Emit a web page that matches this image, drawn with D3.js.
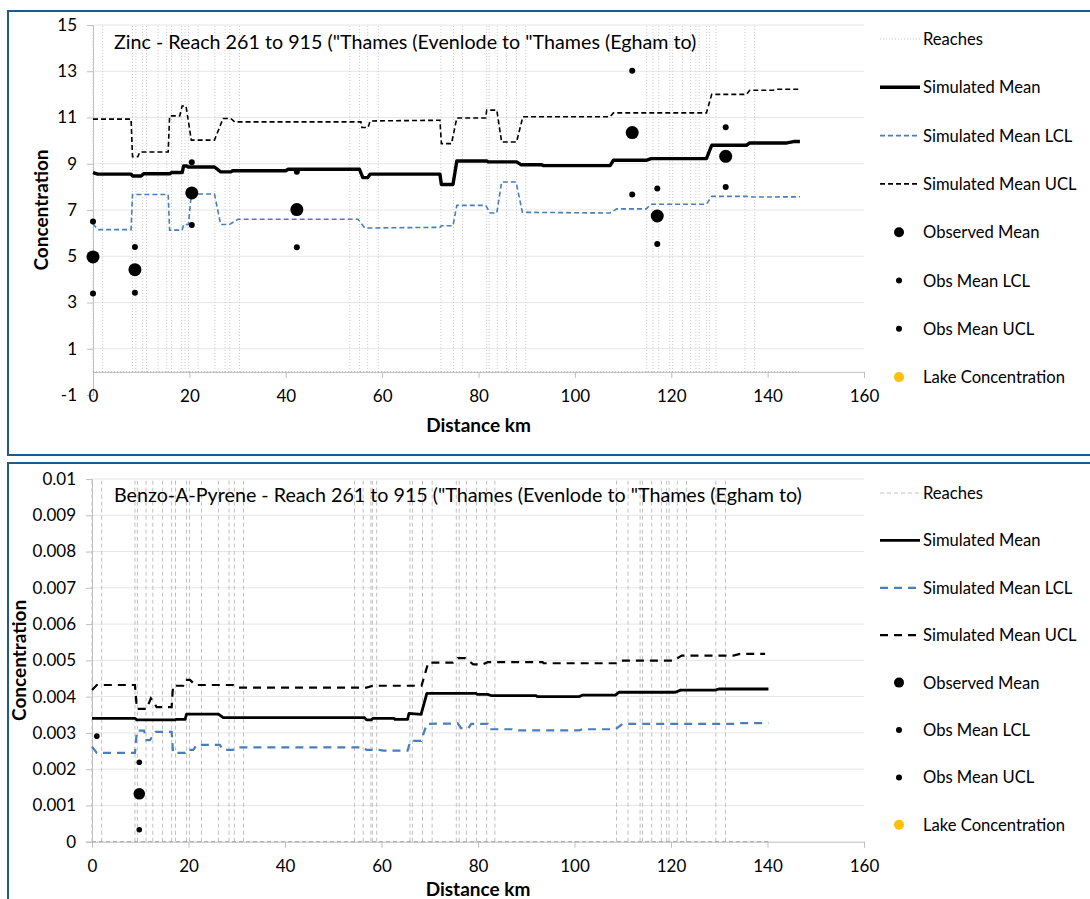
<!DOCTYPE html>
<html>
<head>
<meta charset="utf-8">
<script src="https://cdn.jsdelivr.net/npm/d3@7"></script>
<style>
  body { margin: 0; background: #fff; }
  svg { display: block; font-family: Lato, "Open Sans", sans-serif; }
</style>
</head>
<body>
<svg id="chart" width="1090" height="899"></svg>
<script>
// ---- Zinc (top panel) ----
var zincTitle = 'Zinc - Reach 261 to 915 ("Thames (Evenlode to "Thames (Egham to)';
var zincYTicks = [-1, 1, 3, 5, 7, 9, 11, 13, 15];
var zincReaches = [0, 2, 8.2, 8.9, 10.3, 11.1, 13.5, 15.3, 16.3, 18.4, 19.1, 19.8, 21.8, 25.3, 27.4, 28.4,
    30.4, 53.3, 55.3, 57, 59.2, 72.2, 74.8, 76.7, 81.7, 82.2, 83.9, 85.8, 87.9, 89.8, 114.9, 116.2, 117.4,
    119.7, 120.3, 122.3, 124, 125.1, 125.8, 127.3, 127.9, 129.3, 135.3, 137.3];
var zincEnd = 146.7;
var zincMean = [[0, 8.62], [1, 8.55], [7.9, 8.55], [8.2, 8.47], [10, 8.47], [10.5, 8.57], [16, 8.57], [16.3, 8.62],
    [18.5, 8.62], [18.8, 8.9], [19.5, 8.9], [19.7, 8.86], [25.2, 8.86], [26.5, 8.65], [28.6, 8.65], [29, 8.7],
    [40, 8.7], [40.5, 8.76], [55.3, 8.76], [56, 8.4], [57, 8.4], [57.5, 8.55], [72, 8.55], [72.3, 8.1],
    [74.7, 8.1], [75.5, 9.12], [81.7, 9.12], [82, 9.08], [87.9, 9.08], [88.8, 8.96], [93, 8.96], [93.5, 8.92],
    [107.3, 8.92], [108, 9.15], [114.8, 9.15], [115.8, 9.22], [127.3, 9.22], [128.4, 9.8], [135.6, 9.8],
    [136.3, 9.9], [144, 9.9], [145.4, 9.96], [146.7, 9.96]];
var zincLcl = [[0, 6.41], [1, 6.15], [7.9, 6.15], [8.2, 7.67], [15.6, 7.67], [15.9, 6.13], [18.5, 6.13],
    [18.8, 6.37], [19.8, 6.37], [20.4, 7.69], [25.2, 7.69], [26.5, 6.37], [28.3, 6.37], [30.1, 6.6], [55, 6.6],
    [56.4, 6.22], [72, 6.25], [72.3, 6.32], [74.7, 6.32], [75.5, 7.2], [81.5, 7.2], [82.4, 6.87], [83.8, 6.87],
    [84.8, 8.21], [87.8, 8.21], [89.1, 6.9], [107.3, 6.87], [108.7, 7.05], [114.8, 7.05], [115.8, 7.25],
    [127.3, 7.25], [128.4, 7.59], [135.6, 7.59], [137, 7.56], [146.7, 7.57]];
var zincUcl = [[0, 10.93], [7.9, 10.93], [8.2, 9.3], [9.3, 9.3], [9.7, 9.51], [15.6, 9.51], [15.9, 11.07],
    [18, 11.07], [18.5, 11.5], [19.3, 11.5], [20.4, 10.02], [25.2, 10.02], [27, 10.96], [28.6, 10.96],
    [29.4, 10.81], [55.6, 10.81], [55.8, 10.57], [57.1, 10.57], [57.5, 10.85], [72, 10.88], [72.3, 9.87],
    [74.4, 9.87], [75.5, 10.98], [81.5, 10.98], [81.7, 11.32], [83.8, 11.32], [84.8, 9.94], [87.9, 9.94],
    [89.2, 11.03], [107.3, 11.03], [108, 11.2], [127.3, 11.2], [128.4, 12.0], [135.6, 12.0], [136.3, 12.18],
    [141.1, 12.18], [142, 12.22], [146.7, 12.22]];
var zincObsKm = [0, 8.7, 20.5, 42.3, 111.9, 117.1, 131.3];
var zincObsMean = [4.97, 4.42, 7.74, 7.02, 10.35, 6.74, 9.32];
var zincObsLcl = [3.39, 3.42, 6.35, 5.39, 7.67, 5.53, 8.0];
var zincObsUcl = [6.5, 5.4, 9.06, 8.65, 13.02, 7.93, 10.58];

// ---- Benzo-A-Pyrene (bottom panel) ----
var bapTitle = 'Benzo-A-Pyrene - Reach 261 to 915 ("Thames (Evenlode to "Thames (Egham to)';
var bapYTicks = [0, 0.001, 0.002, 0.003, 0.004, 0.005, 0.006, 0.007, 0.008, 0.009, 0.01];
var bapReaches = [0, 2, 8.9, 9.4, 11.2, 12.6, 14.6, 16.5, 17.3, 19.6, 20.2, 22.7, 26.2, 28.4, 29.5, 31.4,
    54.4, 56.2, 57.8, 58.1, 59, 65.9, 66.4, 68.5, 70.5, 75.5, 76.1, 77.6, 79.7, 81.8, 83.5, 108.7, 111.1,
    113.6, 114.1, 116, 118, 119.1, 119.6, 121.3, 123.2, 129.3, 131.3];
var bapEnd = 140.2;
var bapMean = [[0, 0.0034], [8.9, 0.0034], [9.3, 0.00336], [17.2, 0.00336], [17.4, 0.00337], [19.3, 0.00337],
    [19.6, 0.00352], [26.2, 0.00352], [27.2, 0.00342], [56.5, 0.00342], [56.9, 0.00336], [57.9, 0.00336],
    [58.2, 0.0034], [62.6, 0.0034], [62.8, 0.00337], [65.4, 0.00337], [65.7, 0.00354], [68.2, 0.00351],
    [69.4, 0.00409], [79.6, 0.00409], [79.8, 0.00406], [82, 0.00406], [82.7, 0.00403], [92, 0.00403],
    [92.3, 0.004], [101, 0.004], [101.6, 0.00404], [108.5, 0.00404], [109.2, 0.00412], [120.9, 0.00412],
    [122, 0.00418], [129.2, 0.00418], [129.9, 0.00421], [140.2, 0.00421]];
var bapLcl = [[0, 0.00262], [1, 0.00245], [8.9, 0.00245], [9.3, 0.00306], [10.8, 0.00306], [11.3, 0.0028],
    [12, 0.0028], [13.2, 0.00303], [16.5, 0.00303], [16.8, 0.00245], [19.3, 0.00245], [19.6, 0.00253],
    [21, 0.00253], [21.7, 0.00267], [26.5, 0.00267], [27.2, 0.00253], [29.2, 0.00253], [30, 0.0026],
    [56.2, 0.0026], [56.9, 0.00253], [59.6, 0.00253], [60.3, 0.00251], [65.4, 0.00251], [66, 0.00278],
    [68.2, 0.00278], [69.4, 0.00325], [75.8, 0.00326], [76.5, 0.00313], [78, 0.00313], [78.6, 0.00325],
    [82, 0.00325], [82.4, 0.0031], [87, 0.0031], [87.9, 0.00307], [101, 0.00307], [101.6, 0.0031],
    [108.5, 0.0031], [110, 0.00325], [133, 0.00325], [134.3, 0.00327], [140.2, 0.00327]];
var bapUcl = [[0, 0.00418], [1, 0.00432], [8.9, 0.00432], [9.3, 0.00366], [11.3, 0.00366], [12.2, 0.00395],
    [13.4, 0.00371], [16.5, 0.00371], [16.8, 0.0043], [18.9, 0.0043], [19.3, 0.00446], [20.3, 0.00446],
    [21.4, 0.00432], [29.2, 0.00432], [30, 0.00425], [56.9, 0.00425], [58.2, 0.0043], [68.3, 0.0043],
    [69.7, 0.00494], [74.8, 0.00494], [75.8, 0.00506], [77.3, 0.00506], [79, 0.00489], [81, 0.00489],
    [82, 0.00495], [93.4, 0.00495], [93.6, 0.00492], [109, 0.00492], [109.8, 0.00499], [120.5, 0.00499],
    [122.2, 0.00513], [132.9, 0.00513], [134.3, 0.00518], [139.5, 0.00518]];
var bapObsKm = [1, 9.8];
var bapObsMean = [null, 0.00132];
var bapObsLcl = [null, 0.00033];
var bapObsUcl = [0.00291, 0.00219];

var xTicks = [0, 20, 40, 60, 80, 100, 120, 140, 160];
var legendNames = ['Reaches', 'Simulated Mean', 'Simulated Mean LCL', 'Simulated Mean UCL',
    'Observed Mean', 'Obs Mean LCL', 'Obs Mean UCL', 'Lake Concentration'];

var svg = d3.select("#chart");
var blue = "#4a7ebb";
var grid = "#e6e6e6";
var axisGrey = "#bfbfbf";

function drawPanel(p) {
    var g = svg.append("g");

    // panel frame
    g.append("rect")
        .attr("x", 8).attr("y", p.boxTop)
        .attr("width", 1100).attr("height", p.boxHeight)
        .attr("fill", "#fff")
        .attr("stroke", "#1f5a8a")
        .attr("stroke-width", 2);

    var x = d3.scaleLinear().domain([0, 160]).range([p.left, 864]);
    var y = d3.scaleLinear().domain(p.yDomain).range([p.bottom, p.top]);

    // horizontal gridlines
    g.append("g")
        .selectAll("line")
        .data(p.yTicks.filter(function (d) { return d > 0; }))
        .enter().append("line")
        .attr("x1", x(0)).attr("x2", x(160))
        .attr("y1", function (d) { return y(d); })
        .attr("y2", function (d) { return y(d); })
        .attr("stroke", grid).attr("stroke-width", 1);

    // y axis
    g.append("g")
        .attr("transform", "translate(" + x(0) + ",0)")
        .call(d3.axisLeft(y).tickValues(p.yTicks).tickSize(6).tickPadding(10)
            .tickFormat(p.yFormat))
        .call(function (a) { a.selectAll("line, path").attr("stroke", axisGrey); })
        .call(function (a) {
            a.selectAll("text").attr("fill", "#000").style("font-size", "17px")
                .style("font-family", "Lato, sans-serif");
        });

    // x axis, crossing at y = 0
    g.append("g")
        .attr("transform", "translate(0," + y(0) + ")")
        .call(d3.axisBottom(x).tickValues(xTicks).tickSize(6).tickPadding(12).tickSizeOuter(0))
        .call(function (a) { a.selectAll("line, path").attr("stroke", axisGrey); })
        .call(function (a) {
            a.selectAll("text").attr("fill", "#000").style("font-size", "17px")
                .style("font-family", "Lato, sans-serif");
        });

    // reaches: vertical marker lines plus the baseline joining them
    var reach = g.append("g")
        .attr("stroke", p.reachColor)
        .attr("stroke-width", 1)
        .attr("stroke-dasharray", p.reachDash)
        .attr("fill", "none");
    reach.selectAll("line")
        .data(p.reaches)
        .enter().append("line")
        .attr("x1", function (d) { return x(d); })
        .attr("x2", function (d) { return x(d); })
        .attr("y1", y(0)).attr("y2", y(p.yDomain[1]));
    reach.append("line")
        .attr("x1", x(0)).attr("x2", x(p.end))
        .attr("y1", y(0)).attr("y2", y(0))
        .attr("stroke", "#a6a6a6");

    var line = d3.line()
        .x(function (d) { return x(d[0]); })
        .y(function (d) { return y(d[1]); });

    g.append("path").datum(p.ucl).attr("d", line)
        .attr("fill", "none").attr("stroke", "#000")
        .attr("stroke-width", p.dashWidth).attr("stroke-dasharray", p.dash);
    g.append("path").datum(p.lcl).attr("d", line)
        .attr("fill", "none").attr("stroke", blue)
        .attr("stroke-width", p.dashWidth).attr("stroke-dasharray", p.dash);
    g.append("path").datum(p.mean).attr("d", line)
        .attr("fill", "none").attr("stroke", "#000")
        .attr("stroke-width", p.meanWidth).attr("stroke-linejoin", "round");

    // observed points
    function dots(vals, r) {
        var pts = p.obsKm.map(function (k, i) { return [k, vals[i]]; })
            .filter(function (d) { return d[1] != null; });
        g.append("g").selectAll("circle")
            .data(pts)
            .enter().append("circle")
            .attr("cx", function (d) { return x(d[0]); })
            .attr("cy", function (d) { return y(d[1]); })
            .attr("r", r)
            .attr("fill", "#000");
    }
    dots(p.obsLcl, p.smallR);
    dots(p.obsUcl, p.smallR);
    dots(p.obsMean, p.bigR);

    // title
    g.append("text")
        .attr("x", 114).attr("y", p.titleY)
        .style("font-size", "19.7px")
        .text(p.title);

    // axis titles
    g.append("text")
        .attr("transform", "translate(" + p.yTitleX + "," + ((p.top + p.bottom) / 2) + ") rotate(-90)")
        .attr("text-anchor", "middle")
        .style("font-size", "19px").style("font-weight", "bold")
        .text("Concentration");
    g.append("text")
        .attr("x", (x(0) + x(160)) / 2).attr("y", p.xTitleY)
        .attr("text-anchor", "middle")
        .style("font-size", "19px").style("font-weight", "bold")
        .text("Distance km");

    // legend
    var leg = g.append("g");
    legendNames.forEach(function (name, i) {
        var ly = p.legTop + i * p.legStep;
        if (i === 0) {
            leg.append("line").attr("x1", 880).attr("x2", 920).attr("y1", ly).attr("y2", ly)
                .attr("stroke", p.reachColor).attr("stroke-dasharray", p.reachDash);
        } else if (i === 1) {
            leg.append("line").attr("x1", 880).attr("x2", 920).attr("y1", ly).attr("y2", ly)
                .attr("stroke", "#000").attr("stroke-width", p.meanWidth);
        } else if (i === 2 || i === 3) {
            leg.append("line").attr("x1", 880).attr("x2", 920).attr("y1", ly).attr("y2", ly)
                .attr("stroke", i === 2 ? blue : "#000")
                .attr("stroke-width", p.dashWidth).attr("stroke-dasharray", p.dash);
        } else {
            leg.append("circle").attr("cx", 899).attr("cy", ly)
                .attr("r", i === 4 ? 5 : (i === 7 ? 5 : 3))
                .attr("fill", i === 7 ? "#ffc000" : "#000");
        }
        leg.append("text").attr("x", 923).attr("y", ly + 6)
            .style("font-size", "16.6px")
            .text(name);
    });
}

drawPanel({
    boxTop: 11, boxHeight: 444,
    left: 93, top: 25, bottom: 395,
    yDomain: [-1, 15], yTicks: zincYTicks,
    yFormat: function (d) { return d; },
    reaches: zincReaches, end: zincEnd,
    reachColor: "#c8c8c8", reachDash: "1,2",
    mean: zincMean, lcl: zincLcl, ucl: zincUcl,
    obsKm: zincObsKm, obsMean: zincObsMean, obsLcl: zincObsLcl, obsUcl: zincObsUcl,
    dash: "5,3", dashWidth: 1.6, meanWidth: 3.4, bigR: 6.5, smallR: 3,
    title: zincTitle, titleY: 49,
    yTitleX: 48, xTitleY: 432,
    legTop: 39, legStep: 48.3
});

drawPanel({
    boxTop: 463, boxHeight: 460,
    left: 92, top: 479, bottom: 841.7,
    yDomain: [0, 0.01], yTicks: bapYTicks,
    yFormat: function (d) { return d === 0 ? "0" : String(+d.toFixed(3)); },
    reaches: bapReaches, end: bapEnd,
    reachColor: "#c0c0c0", reachDash: "4,3",
    mean: bapMean, lcl: bapLcl, ucl: bapUcl,
    obsKm: bapObsKm, obsMean: bapObsMean, obsLcl: bapObsLcl, obsUcl: bapObsUcl,
    dash: "8,6", dashWidth: 2.2, meanWidth: 2.8, bigR: 5.8, smallR: 2.8,
    title: bapTitle, titleY: 502,
    yTitleX: 26, xTitleY: 896,
    legTop: 493, legStep: 47.4
});
</script>
</body>
</html>
